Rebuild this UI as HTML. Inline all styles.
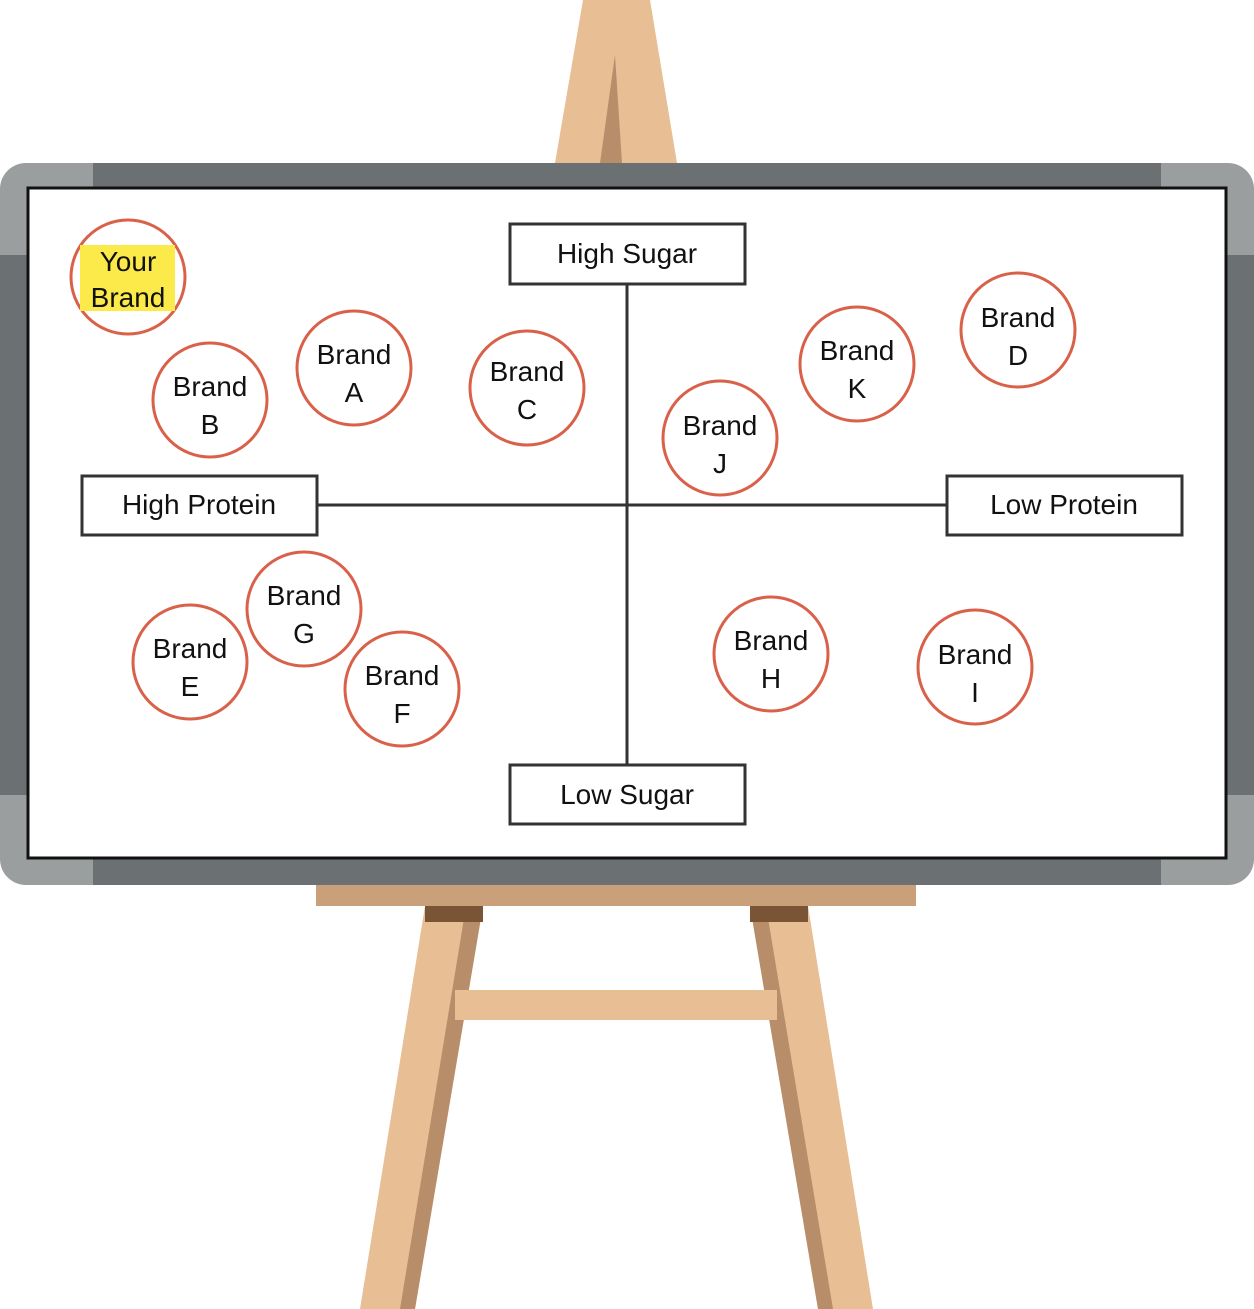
<!DOCTYPE html>
<html><head><meta charset="utf-8"><style>
html,body{margin:0;padding:0;background:#fff;}
svg{display:block;}
text{font-family:"Liberation Sans",sans-serif;font-size:28px;fill:#111;text-anchor:middle;}
</style></head><body>
<svg width="1254" height="1309" viewBox="0 0 1254 1309" xmlns="http://www.w3.org/2000/svg">
<!-- top post -->
<polygon points="583,0 650,0 677,163 555,163" fill="#E8BE94"/>
<polygon points="615,55 622,163 600,163" fill="#B88E6A"/>
<!-- legs -->
<polygon points="425,906 483,906 415,1309 360,1309" fill="#E8BE94"/>
<polygon points="466,906 483,906 415,1309 400,1309" fill="#B88E6A"/>
<polygon points="750,906 808,906 873,1309 818,1309" fill="#E8BE94"/>
<polygon points="750,906 766,906 833,1309 818,1309" fill="#B88E6A"/>
<rect x="425" y="906" width="58" height="16" fill="#7A5535"/>
<rect x="750" y="906" width="58" height="16" fill="#7A5535"/>
<rect x="455" y="990" width="322" height="30" fill="#E8BE94"/>
<rect x="316" y="883" width="600" height="23" fill="#C9A07A"/>
<!-- frame -->
<rect x="0" y="163" width="1254" height="722" rx="26" fill="#9A9E9F"/>
<rect x="93" y="163" width="1068" height="722" fill="#6B7073"/>
<rect x="0" y="255" width="1254" height="540" fill="#6B7073"/>
<rect x="28" y="188" width="1198" height="670" fill="#fff" stroke="#111" stroke-width="3"/>
<!-- axes -->
<line x1="627" y1="284" x2="627" y2="764" stroke="#333" stroke-width="3"/>
<line x1="317" y1="505" x2="947" y2="505" stroke="#333" stroke-width="3"/>
<g fill="#fff" stroke="#333" stroke-width="3">
<rect x="510" y="224" width="235" height="60"/>
<rect x="82" y="476" width="235" height="59"/>
<rect x="947" y="476" width="235" height="59"/>
<rect x="510" y="765" width="235" height="59"/>
</g>
<text x="627" y="263">High Sugar</text>
<text x="199" y="514">High Protein</text>
<text x="1064" y="514">Low Protein</text>
<text x="627" y="804">Low Sugar</text>
<!-- circles -->
<g fill="#fff" stroke="#D9614A" stroke-width="3">
<circle cx="128" cy="277" r="57"/>
<circle cx="210" cy="400" r="57"/>
<circle cx="354" cy="368" r="57"/>
<circle cx="527" cy="388" r="57"/>
<circle cx="720" cy="438" r="57"/>
<circle cx="857" cy="364" r="57"/>
<circle cx="1018" cy="330" r="57"/>
<circle cx="304" cy="609" r="57"/>
<circle cx="190" cy="662" r="57"/>
<circle cx="402" cy="689" r="57"/>
<circle cx="771" cy="654" r="57"/>
<circle cx="975" cy="667" r="57"/>
</g>
<rect x="80" y="245" width="95" height="66" fill="#FCEA4A"/>
<text x="128" y="271">Your</text><text x="128" y="307">Brand</text>
<text x="210" y="396">Brand</text><text x="210" y="434">B</text>
<text x="354" y="364">Brand</text><text x="354" y="402">A</text>
<text x="527" y="381">Brand</text><text x="527" y="419">C</text>
<text x="720" y="435">Brand</text><text x="720" y="473">J</text>
<text x="857" y="360">Brand</text><text x="857" y="398">K</text>
<text x="1018" y="327">Brand</text><text x="1018" y="365">D</text>
<text x="304" y="605">Brand</text><text x="304" y="643">G</text>
<text x="190" y="658">Brand</text><text x="190" y="696">E</text>
<text x="402" y="685">Brand</text><text x="402" y="723">F</text>
<text x="771" y="650">Brand</text><text x="771" y="688">H</text>
<text x="975" y="664">Brand</text><text x="975" y="702">I</text>
</svg>
</body></html>
